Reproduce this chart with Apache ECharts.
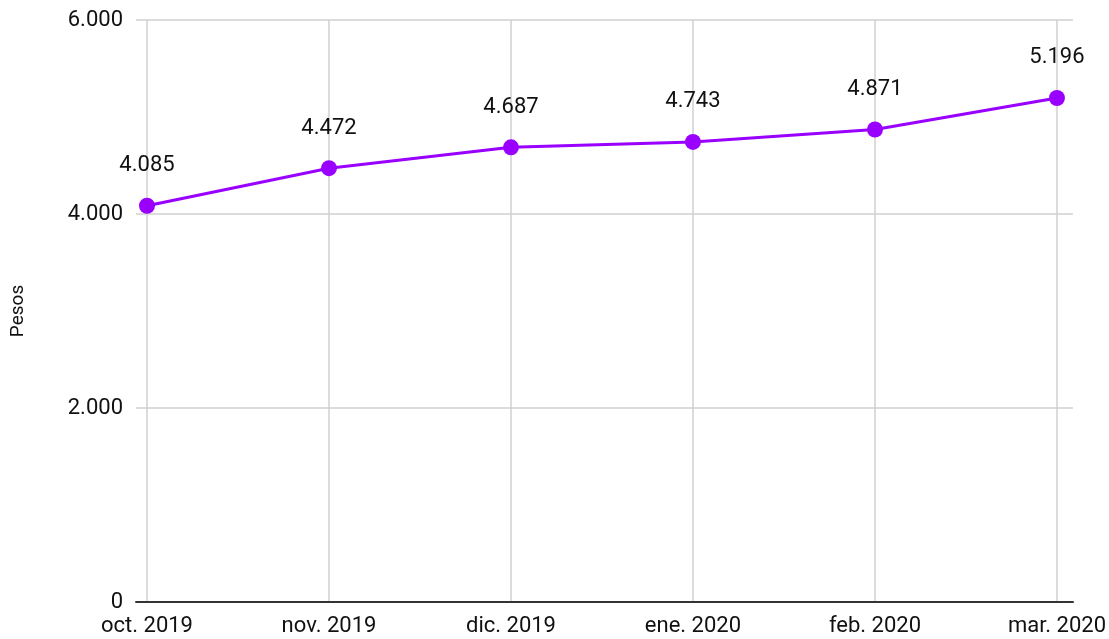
<!DOCTYPE html>
<html>
<head>
<meta charset="utf-8">
<script src="https://cdn.jsdelivr.net/npm/echarts@6/dist/echarts.min.js"></script>
<style>
html,body{margin:0;padding:0;background:#fff;}
#chart{width:1109px;height:639px;}
</style>
</head>
<body>
<div id="chart"></div>
<script>
var categories = ['oct. 2019', 'nov. 2019', 'dic. 2019', 'ene. 2020', 'feb. 2020', 'mar. 2020'];
var values = [4085, 4472, 4687, 4743, 4871, 5196];
var yTicks = [0, 2000, 4000, 6000];
var yName = 'Pesos';

function fmt(v) {
  return String(v).replace(/\B(?=(\d{3})+(?!\d))/g, '.');
}

var chart = echarts.init(document.getElementById('chart'));
var FONT = 'Roboto';
chart.setOption({
  animation: false,
  backgroundColor: '#ffffff',
  textStyle: { fontFamily: FONT },
  grid: [
    { left: 136, right: 36, top: 20, bottom: 37 },
    { left: 147, right: 49, top: 20, bottom: 37 }
  ],
  xAxis: [
    {
      gridIndex: 0, type: 'value', min: 0, max: 1,
      axisLine: { show: true, lineStyle: { color: '#333333', width: 2 } },
      axisTick: { show: false }, axisLabel: { show: false }, splitLine: { show: false }
    },
    {
      gridIndex: 1, type: 'category', data: categories, boundaryGap: false,
      axisLine: { show: false }, axisTick: { show: false },
      axisLabel: { color: '#111111', fontSize: 22, fontFamily: FONT, margin: 13 },
      splitLine: { show: true, lineStyle: { color: '#d0d0d0', width: 1.5 } }
    }
  ],
  yAxis: [
    {
      gridIndex: 0, type: 'value', min: yTicks[0], max: yTicks[yTicks.length - 1], interval: 2000,
      name: yName, nameLocation: 'middle', nameGap: 108, nameRotate: 90,
      nameTextStyle: { color: '#111111', fontSize: 19, fontFamily: FONT },
      axisLine: { show: false }, axisTick: { show: false },
      axisLabel: { color: '#111111', fontSize: 22, fontFamily: FONT, margin: 13, formatter: fmt },
      splitLine: { show: true, lineStyle: { color: '#d0d0d0', width: 1.5 } }
    },
    {
      gridIndex: 1, type: 'value', min: yTicks[0], max: yTicks[yTicks.length - 1], interval: 2000,
      show: false, splitLine: { show: false }
    }
  ],
  series: [{
    type: 'line',
    xAxisIndex: 1, yAxisIndex: 1,
    data: values,
    symbol: 'circle', symbolSize: 16,
    lineStyle: { color: '#9900ff', width: 3 },
    itemStyle: { color: '#9900ff' },
    label: {
      show: true, position: 'top', distance: 21,
      color: '#111111', fontSize: 22, fontFamily: FONT,
      formatter: function (p) { return fmt(p.value); }
    }
  }]
});
</script>
</body>
</html>
